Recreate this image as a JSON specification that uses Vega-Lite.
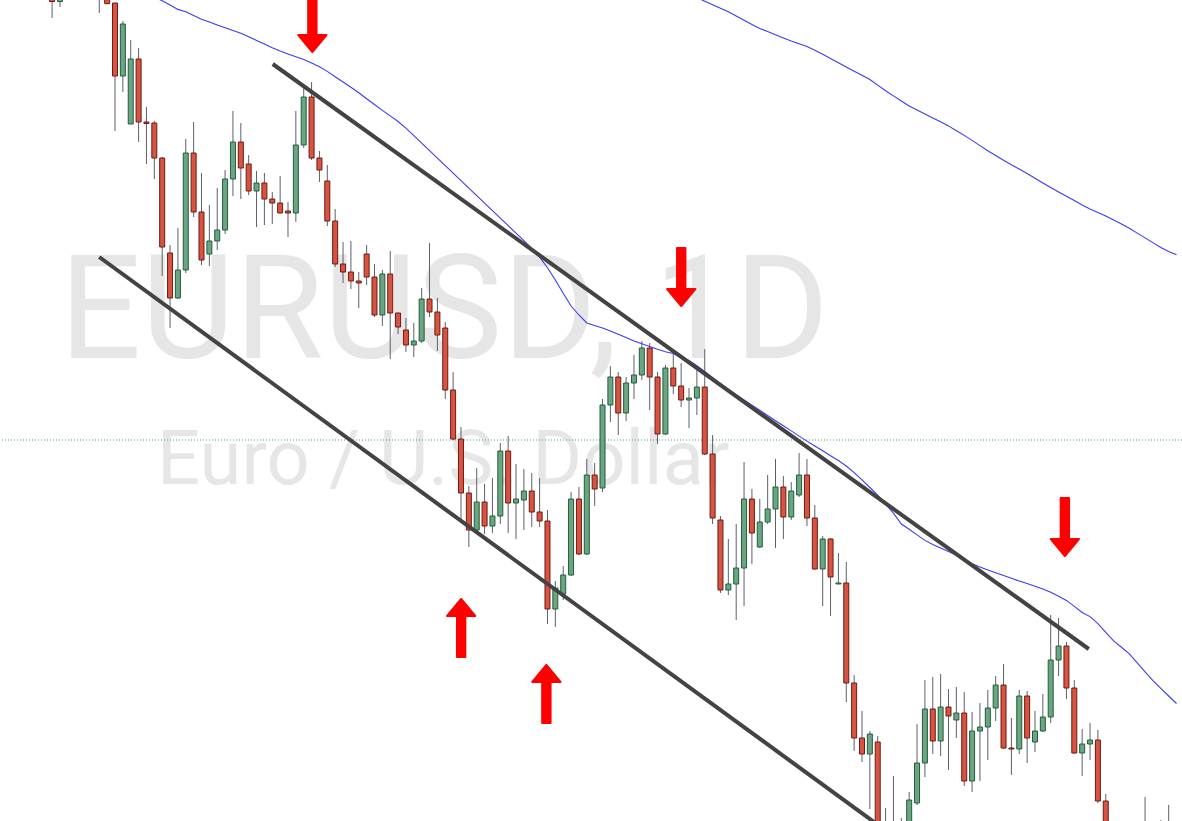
{
  "$schema": "https://vega.github.io/schema/vega-lite/v6.json",
  "width": 1182,
  "height": 821,
  "autosize": {"type": "none"},
  "padding": 0,
  "background": "#ffffff",
  "config": {"view": {"stroke": null}},
  "datasets": {
    "candles": [
      {"t":0,"o":1.2003,"h":1.201,"l":1.1982,"c":1.19985},
      {"t":1,"o":1.19985,"h":1.201,"l":1.1993,"c":1.2004},
      {"t":2,"o":1.202,"h":1.205,"l":1.2015,"c":1.204},
      {"t":3,"o":1.204,"h":1.2055,"l":1.2025,"c":1.203},
      {"t":4,"o":1.203,"h":1.204,"l":1.2012,"c":1.202},
      {"t":5,"o":1.202,"h":1.2045,"l":1.201,"c":1.2035},
      {"t":6,"o":1.2035,"h":1.204,"l":1.1987,"c":1.2005},
      {"t":7,"o":1.2005,"h":1.2012,"l":1.1996,"c":1.19963},
      {"t":8,"o":1.1997,"h":1.1997,"l":1.1869,"c":1.1924},
      {"t":9,"o":1.1924,"h":1.1979,"l":1.1908,"c":1.1976},
      {"t":10,"o":1.1876,"h":1.196,"l":1.1876,"c":1.1941},
      {"t":11,"o":1.1941,"h":1.1952,"l":1.1858,"c":1.1878},
      {"t":12,"o":1.1878,"h":1.1893,"l":1.1836,"c":1.18765,"ma":1.2007},
      {"t":13,"o":1.1877,"h":1.1879,"l":1.1821,"c":1.1842,"ma":1.2003},
      {"t":14,"o":1.1842,"h":1.1843,"l":1.1724,"c":1.1753,"ma":1.19992},
      {"t":15,"o":1.1747,"h":1.1755,"l":1.1672,"c":1.1702,"ma":1.19949},
      {"t":16,"o":1.1702,"h":1.1772,"l":1.1701,"c":1.173,"ma":1.19906},
      {"t":17,"o":1.173,"h":1.1861,"l":1.1727,"c":1.1847,"ma":1.19882},
      {"t":18,"o":1.1847,"h":1.1878,"l":1.1783,"c":1.1788,"ma":1.19846},
      {"t":19,"o":1.1788,"h":1.1827,"l":1.1735,"c":1.174,"ma":1.19808},
      {"t":20,"o":1.1746,"h":1.1795,"l":1.1734,"c":1.1759,"ma":1.19779},
      {"t":21,"o":1.1759,"h":1.1812,"l":1.175,"c":1.177,"ma":1.19751},
      {"t":22,"o":1.177,"h":1.183,"l":1.1766,"c":1.1821,"ma":1.19723},
      {"t":23,"o":1.1821,"h":1.1889,"l":1.1804,"c":1.1858,"ma":1.19695},
      {"t":24,"o":1.1858,"h":1.1877,"l":1.1801,"c":1.1832,"ma":1.19668},
      {"t":25,"o":1.1836,"h":1.1845,"l":1.1805,"c":1.1809,"ma":1.19633},
      {"t":26,"o":1.1809,"h":1.1829,"l":1.1773,"c":1.1817,"ma":1.19596},
      {"t":27,"o":1.1817,"h":1.1827,"l":1.1775,"c":1.1801,"ma":1.19559},
      {"t":28,"o":1.1801,"h":1.1808,"l":1.1776,"c":1.1797,"ma":1.19522},
      {"t":29,"o":1.1797,"h":1.1824,"l":1.1787,"c":1.1787,"ma":1.1949},
      {"t":30,"o":1.1789,"h":1.1798,"l":1.1763,"c":1.1787,"ma":1.19461},
      {"t":31,"o":1.1787,"h":1.1889,"l":1.1778,"c":1.1855,"ma":1.19433},
      {"t":32,"o":1.1855,"h":1.1914,"l":1.1852,"c":1.1903,"ma":1.19404},
      {"t":33,"o":1.1903,"h":1.1918,"l":1.184,"c":1.1842,"ma":1.19369},
      {"t":34,"o":1.1842,"h":1.1849,"l":1.1818,"c":1.183,"ma":1.19333},
      {"t":35,"o":1.1819,"h":1.1835,"l":1.1774,"c":1.1779,"ma":1.19286},
      {"t":36,"o":1.1779,"h":1.1791,"l":1.1733,"c":1.1736,"ma":1.19233},
      {"t":37,"o":1.1736,"h":1.1758,"l":1.1717,"c":1.1728,"ma":1.1918},
      {"t":38,"o":1.1728,"h":1.1759,"l":1.1711,"c":1.1719,"ma":1.19128},
      {"t":39,"o":1.1719,"h":1.1728,"l":1.1692,"c":1.1717,"ma":1.19072},
      {"t":40,"o":1.1746,"h":1.1755,"l":1.1715,"c":1.1723,"ma":1.19013},
      {"t":41,"o":1.1723,"h":1.1736,"l":1.1683,"c":1.1685,"ma":1.18955},
      {"t":42,"o":1.1685,"h":1.173,"l":1.1674,"c":1.1726,"ma":1.18896},
      {"t":43,"o":1.1726,"h":1.1749,"l":1.1641,"c":1.1687,"ma":1.18841},
      {"t":44,"o":1.1687,"h":1.1687,"l":1.1666,"c":1.1673,"ma":1.18785},
      {"t":45,"o":1.167,"h":1.1682,"l":1.1648,"c":1.1655,"ma":1.18718},
      {"t":46,"o":1.1655,"h":1.1677,"l":1.1643,"c":1.1659,"ma":1.18644},
      {"t":47,"o":1.1659,"h":1.1712,"l":1.1657,"c":1.1701,"ma":1.18569},
      {"t":48,"o":1.1701,"h":1.1757,"l":1.1683,"c":1.1688,"ma":1.18494},
      {"t":49,"o":1.1688,"h":1.1702,"l":1.1649,"c":1.1665,"ma":1.18418},
      {"t":50,"o":1.1672,"h":1.1678,"l":1.1601,"c":1.161,"ma":1.18344},
      {"t":51,"o":1.161,"h":1.1628,"l":1.156,"c":1.1561,"ma":1.18269},
      {"t":52,"o":1.1561,"h":1.1573,"l":1.1481,"c":1.1507,"ma":1.18193},
      {"t":53,"o":1.1507,"h":1.1514,"l":1.1453,"c":1.147,"ma":1.18118},
      {"t":54,"o":1.147,"h":1.1532,"l":1.1469,"c":1.1498,"ma":1.18044},
      {"t":55,"o":1.1498,"h":1.1516,"l":1.1466,"c":1.1474,"ma":1.17968},
      {"t":56,"o":1.1474,"h":1.1522,"l":1.1467,"c":1.1484,"ma":1.17894},
      {"t":57,"o":1.1484,"h":1.1557,"l":1.1476,"c":1.1549,"ma":1.17818},
      {"t":58,"o":1.1549,"h":1.1564,"l":1.1467,"c":1.1497,"ma":1.17744},
      {"t":59,"o":1.1497,"h":1.1536,"l":1.1461,"c":1.1501,"ma":1.17668},
      {"t":60,"o":1.15,"h":1.1531,"l":1.147,"c":1.1509,"ma":1.17593},
      {"t":61,"o":1.1509,"h":1.1527,"l":1.1473,"c":1.1488,"ma":1.17517},
      {"t":62,"o":1.1488,"h":1.1522,"l":1.1473,"c":1.1479,"ma":1.17429},
      {"t":63,"o":1.1479,"h":1.149,"l":1.1376,"c":1.1391,"ma":1.17323},
      {"t":64,"o":1.1391,"h":1.1419,"l":1.1373,"c":1.1412,"ma":1.172},
      {"t":65,"o":1.1406,"h":1.1434,"l":1.14,"c":1.1425,"ma":1.17067},
      {"t":66,"o":1.1425,"h":1.1508,"l":1.1424,"c":1.1501,"ma":1.1694},
      {"t":67,"o":1.1501,"h":1.1513,"l":1.1445,"c":1.1446,"ma":1.1685},
      {"t":68,"o":1.1446,"h":1.1541,"l":1.1445,"c":1.1525,"ma":1.1677},
      {"t":69,"o":1.1525,"h":1.1537,"l":1.1494,"c":1.1511,"ma":1.16746},
      {"t":70,"o":1.1512,"h":1.1601,"l":1.1508,"c":1.1595,"ma":1.16719},
      {"t":71,"o":1.1595,"h":1.1634,"l":1.1578,"c":1.1623,"ma":1.1669},
      {"t":72,"o":1.1623,"h":1.1628,"l":1.1565,"c":1.1587,"ma":1.16657},
      {"t":73,"o":1.1587,"h":1.1623,"l":1.1579,"c":1.1617,"ma":1.16624},
      {"t":74,"o":1.1617,"h":1.1645,"l":1.1601,"c":1.1625,"ma":1.16591},
      {"t":75,"o":1.1625,"h":1.1659,"l":1.162,"c":1.1652,"ma":1.16562},
      {"t":76,"o":1.1652,"h":1.1657,"l":1.159,"c":1.1623,"ma":1.16534},
      {"t":77,"o":1.1623,"h":1.1628,"l":1.1556,"c":1.1566,"ma":1.16507},
      {"t":78,"o":1.1566,"h":1.1635,"l":1.1565,"c":1.1632,"ma":1.16482},
      {"t":79,"o":1.1632,"h":1.1646,"l":1.1606,"c":1.1614,"ma":1.16465},
      {"t":80,"o":1.1614,"h":1.1637,"l":1.1593,"c":1.16,"ma":1.16431},
      {"t":81,"o":1.16,"h":1.1612,"l":1.1572,"c":1.1602,"ma":1.16394},
      {"t":82,"o":1.1602,"h":1.1634,"l":1.1585,"c":1.1613,"ma":1.16343,"ma2":1.20025},
      {"t":83,"o":1.1613,"h":1.1651,"l":1.1545,"c":1.1546,"ma":1.16285,"ma2":1.19988},
      {"t":84,"o":1.1546,"h":1.1565,"l":1.1476,"c":1.1482,"ma":1.16222,"ma2":1.19952},
      {"t":85,"o":1.148,"h":1.1484,"l":1.1407,"c":1.141,"ma":1.16164,"ma2":1.19917},
      {"t":86,"o":1.141,"h":1.1461,"l":1.1405,"c":1.1416,"ma":1.16106,"ma2":1.19882},
      {"t":87,"o":1.1416,"h":1.1476,"l":1.138,"c":1.1432,"ma":1.16052,"ma2":1.19841},
      {"t":88,"o":1.1432,"h":1.1538,"l":1.1394,"c":1.1501,"ma":1.16,"ma2":1.19798},
      {"t":89,"o":1.1501,"h":1.1511,"l":1.1436,"c":1.1467,"ma":1.15948,"ma2":1.19756},
      {"t":90,"o":1.1453,"h":1.1501,"l":1.1452,"c":1.1478,"ma":1.15897,"ma2":1.19715},
      {"t":91,"o":1.1478,"h":1.1525,"l":1.1476,"c":1.1491,"ma":1.15845,"ma2":1.19684},
      {"t":92,"o":1.1491,"h":1.1541,"l":1.1452,"c":1.1513,"ma":1.15793,"ma2":1.19652},
      {"t":93,"o":1.1513,"h":1.1524,"l":1.1461,"c":1.1483,"ma":1.15742,"ma2":1.1962},
      {"t":94,"o":1.1483,"h":1.1518,"l":1.148,"c":1.1509,"ma":1.15691,"ma2":1.1959},
      {"t":95,"o":1.1505,"h":1.1547,"l":1.1503,"c":1.1525,"ma":1.15639,"ma2":1.19562},
      {"t":96,"o":1.1525,"h":1.1541,"l":1.1474,"c":1.1482,"ma":1.15589,"ma2":1.19534},
      {"t":97,"o":1.1482,"h":1.1495,"l":1.143,"c":1.1431,"ma":1.1554,"ma2":1.19497},
      {"t":98,"o":1.1431,"h":1.1464,"l":1.1394,"c":1.1461,"ma":1.15492,"ma2":1.19457},
      {"t":99,"o":1.1461,"h":1.1462,"l":1.1384,"c":1.1423,"ma":1.15443,"ma2":1.19416},
      {"t":100,"o":1.1416,"h":1.1447,"l":1.1416,"c":1.1417,"ma":1.15395,"ma2":1.19372},
      {"t":101,"o":1.1417,"h":1.1438,"l":1.1298,"c":1.1317,"ma":1.1534,"ma2":1.19329},
      {"t":102,"o":1.1317,"h":1.1325,"l":1.1249,"c":1.1262,"ma":1.15274,"ma2":1.19288},
      {"t":103,"o":1.1262,"h":1.1289,"l":1.1238,"c":1.1246,"ma":1.15201,"ma2":1.19248},
      {"t":104,"o":1.1246,"h":1.1269,"l":1.1191,"c":1.1266,"ma":1.15125,"ma2":1.19205},
      {"t":105,"o":1.1258,"h":1.1264,"l":1.115,"c":1.117,"ma":1.15048,"ma2":1.19149},
      {"t":106,"o":1.1175,"h":1.1192,"l":1.114,"c":1.116,"ma":1.14958,"ma2":1.19093},
      {"t":107,"o":1.1172,"h":1.1224,"l":1.114,"c":1.1155,"ma":1.14868,"ma2":1.19041},
      {"t":108,"o":1.1155,"h":1.1182,"l":1.1145,"c":1.117,"ma":1.1476,"ma2":1.1899},
      {"t":109,"o":1.116,"h":1.1208,"l":1.115,"c":1.12,"ma":1.14707,"ma2":1.1894},
      {"t":110,"o":1.1197,"h":1.1276,"l":1.1195,"c":1.1237,"ma":1.14651,"ma2":1.18901},
      {"t":111,"o":1.1237,"h":1.132,"l":1.1223,"c":1.1291,"ma":1.14596,"ma2":1.18861},
      {"t":112,"o":1.1291,"h":1.1323,"l":1.1246,"c":1.1259,"ma":1.14555,"ma2":1.18821},
      {"t":113,"o":1.1259,"h":1.1326,"l":1.1244,"c":1.1293,"ma":1.1452,"ma2":1.18782},
      {"t":114,"o":1.1293,"h":1.1311,"l":1.123,"c":1.1284,"ma":1.14486,"ma2":1.18741},
      {"t":115,"o":1.128,"h":1.1313,"l":1.1262,"c":1.1287,"ma":1.14447,"ma2":1.18693},
      {"t":116,"o":1.1287,"h":1.1308,"l":1.1214,"c":1.1219,"ma":1.14405,"ma2":1.18646},
      {"t":117,"o":1.1219,"h":1.1288,"l":1.1208,"c":1.1269,"ma":1.14362,"ma2":1.18596},
      {"t":118,"o":1.1269,"h":1.1297,"l":1.1219,"c":1.1273,"ma":1.14329,"ma2":1.18544},
      {"t":119,"o":1.1273,"h":1.131,"l":1.124,"c":1.1292,"ma":1.14301,"ma2":1.18493},
      {"t":120,"o":1.1292,"h":1.1324,"l":1.1279,"c":1.1315,"ma":1.14273,"ma2":1.18445},
      {"t":121,"o":1.1315,"h":1.1336,"l":1.1251,"c":1.1252,"ma":1.14245,"ma2":1.18398},
      {"t":122,"o":1.1252,"h":1.1282,"l":1.1225,"c":1.1251,"ma":1.14217,"ma2":1.18352},
      {"t":123,"o":1.1251,"h":1.131,"l":1.1246,"c":1.1304,"ma":1.1419,"ma2":1.18309},
      {"t":124,"o":1.1304,"h":1.1309,"l":1.1237,"c":1.1262,"ma":1.14164,"ma2":1.18265},
      {"t":125,"o":1.1258,"h":1.1289,"l":1.1248,"c":1.1269,"ma":1.14137,"ma2":1.18217},
      {"t":126,"o":1.1269,"h":1.1306,"l":1.1268,"c":1.1283,"ma":1.14111,"ma2":1.1817},
      {"t":127,"o":1.1283,"h":1.1385,"l":1.1277,"c":1.134,"ma":1.14077,"ma2":1.18125},
      {"t":128,"o":1.134,"h":1.1382,"l":1.1324,"c":1.1354,"ma":1.14037,"ma2":1.18081},
      {"t":129,"o":1.1354,"h":1.1358,"l":1.1301,"c":1.1312,"ma":1.13996,"ma2":1.18037},
      {"t":130,"o":1.1312,"h":1.132,"l":1.1246,"c":1.1247,"ma":1.13936,"ma2":1.17994},
      {"t":131,"o":1.1247,"h":1.1271,"l":1.1224,"c":1.1256,"ma":1.13875,"ma2":1.1795},
      {"t":132,"o":1.1256,"h":1.1277,"l":1.124,"c":1.126,"ma":1.13834,"ma2":1.17911},
      {"t":133,"o":1.126,"h":1.127,"l":1.1197,"c":1.1199,"ma":1.13764,"ma2":1.17875},
      {"t":134,"o":1.1199,"h":1.1206,"l":1.115,"c":1.1165,"ma":1.13677,"ma2":1.17839},
      {"t":135,"o":1.1165,"h":1.1172,"l":1.113,"c":1.114,"ma":1.13591,"ma2":1.17799},
      {"t":136,"o":1.114,"h":1.117,"l":1.113,"c":1.1155,"ma":1.13527,"ma2":1.1776},
      {"t":137,"o":1.1155,"h":1.1175,"l":1.1135,"c":1.1145,"ma":1.13461,"ma2":1.17717},
      {"t":138,"o":1.1145,"h":1.1175,"l":1.1135,"c":1.116,"ma":1.13372,"ma2":1.17669},
      {"t":139,"o":1.1155,"h":1.1203,"l":1.114,"c":1.117,"ma":1.13282,"ma2":1.17621},
      {"t":140,"o":1.1165,"h":1.1174,"l":1.114,"c":1.115,"ma":1.13193,"ma2":1.17574},
      {"t":141,"o":1.1155,"h":1.118,"l":1.1145,"c":1.1165,"ma":1.13116,"ma2":1.17526},
      {"t":142,"o":1.1165,"h":1.1195,"l":1.114,"c":1.115,"ma":1.1304,"ma2":1.17485},
      {"t":143,"ma":1.12965,"ma2":1.17452}
    ],
    "channel": [
      {"line":"upper","t":28.06,"p":1.1936},
      {"line":"upper","t":131.84,"p":1.1351},
      {"line":"lower","t":5.99,"p":1.1743},
      {"line":"lower","t":104.98,"p":1.11754}
    ],
    "arrows": [
      {"dir":"down","t":33.1,"p":1.1977},
      {"dir":"down","t":80.01,"p":1.1723},
      {"dir":"down","t":128.8,"p":1.1473},
      {"dir":"up","t":52.02,"p":1.1372},
      {"dir":"up","t":62.86,"p":1.1306}
    ]
  },
  "layer": [
    {
      "data": {"values": [{"t": 49.87, "p": 1.1642, "label": "EURUSD, 1D"}]},
      "mark": {"type": "text", "font": "Roboto", "fontSize": 144, "color": "#e6e6e6", "align": "center", "baseline": "alphabetic", "clip": true},
      "encoding": {
        "x": {"field": "t", "type": "quantitative", "scale": {"domain": [-5.99, 143.06], "nice": false, "zero": false}, "axis": null},
        "y": {"field": "p", "type": "quantitative", "scale": {"domain": [1.1179, 1.2], "nice": false, "zero": false}, "axis": null},
        "text": {"field": "label"}
      }
    },
    {
      "data": {"values": [{"t": 49.75, "p": 1.1516, "label": "Euro / U.S. Dollar"}]},
      "mark": {"type": "text", "font": "Roboto", "fontSize": 76, "color": "#e6e6e6", "align": "center", "baseline": "alphabetic", "clip": true},
      "encoding": {
        "x": {"field": "t", "type": "quantitative", "axis": null},
        "y": {"field": "p", "type": "quantitative", "axis": null},
        "text": {"field": "label"}
      }
    },
    {
      "data": {"values": [{"p": 1.156}]},
      "mark": {"type": "rule", "color": "#4f9e78", "strokeWidth": 1, "strokeDash": [1, 2]},
      "encoding": {
        "y": {"field": "p", "type": "quantitative", "axis": null}
      }
    },
    {
      "data": {"name": "candles"},
      "mark": {"type": "rule", "color": "#5d606b", "strokeWidth": 1, "clip": true},
      "encoding": {
        "x": {"field": "t", "type": "quantitative", "axis": null},
        "y": {"field": "l", "type": "quantitative", "axis": null},
        "y2": {"field": "h"}
      }
    },
    {
      "data": {"name": "candles"},
      "mark": {"type": "bar", "size": 5, "strokeWidth": 1, "clip": true},
      "encoding": {
        "x": {"field": "t", "type": "quantitative", "axis": null},
        "y": {"field": "o", "type": "quantitative", "axis": null},
        "y2": {"field": "c"},
        "fill": {"condition": {"test": "datum.c >= datum.o", "value": "#6ba583"}, "value": "#d75442"},
        "stroke": {"condition": {"test": "datum.c >= datum.o", "value": "#225e3a"}, "value": "#6d1b12"}
      }
    },
    {
      "data": {"name": "candles"},
      "mark": {"type": "line", "color": "#3b3bf6", "strokeWidth": 1.1, "clip": true},
      "encoding": {
        "x": {"field": "t", "type": "quantitative", "axis": null},
        "y": {"field": "ma", "type": "quantitative", "axis": null}
      }
    },
    {
      "data": {"name": "candles"},
      "mark": {"type": "line", "color": "#3b3bf6", "strokeWidth": 1.1, "clip": true},
      "encoding": {
        "x": {"field": "t", "type": "quantitative", "axis": null},
        "y": {"field": "ma2", "type": "quantitative", "axis": null}
      }
    },
    {
      "data": {"name": "channel"},
      "mark": {"type": "line", "color": "#434343", "strokeWidth": 4, "clip": true},
      "encoding": {
        "x": {"field": "t", "type": "quantitative", "axis": null},
        "y": {"field": "p", "type": "quantitative", "axis": null},
        "detail": {"field": "line"}
      }
    },
    {
      "data": {"name": "arrows"},
      "transform": [{"filter": "datum.dir == 'down'"}],
      "mark": {"type": "point", "filled": true, "opacity": 1, "size": 3600, "color": "#ff0000", "stroke": "#ff0000", "strokeWidth": 2, "strokeJoin": "round", "clip": true,
        "shape": "M0,0.97 L0.47,0.4 L0.14,0.4 L0.14,-0.97 L-0.14,-0.97 L-0.14,0.4 L-0.47,0.4 Z"},
      "encoding": {
        "x": {"field": "t", "type": "quantitative", "axis": null},
        "y": {"field": "p", "type": "quantitative", "axis": null}
      }
    },
    {
      "data": {"name": "arrows"},
      "transform": [{"filter": "datum.dir == 'up'"}],
      "mark": {"type": "point", "filled": true, "opacity": 1, "size": 3600, "color": "#ff0000", "stroke": "#ff0000", "strokeWidth": 2, "strokeJoin": "round", "clip": true,
        "shape": "M0,-0.97 L0.47,-0.4 L0.14,-0.4 L0.14,0.97 L-0.14,0.97 L-0.14,-0.4 L-0.47,-0.4 Z"},
      "encoding": {
        "x": {"field": "t", "type": "quantitative", "axis": null},
        "y": {"field": "p", "type": "quantitative", "axis": null}
      }
    }
  ]
}
